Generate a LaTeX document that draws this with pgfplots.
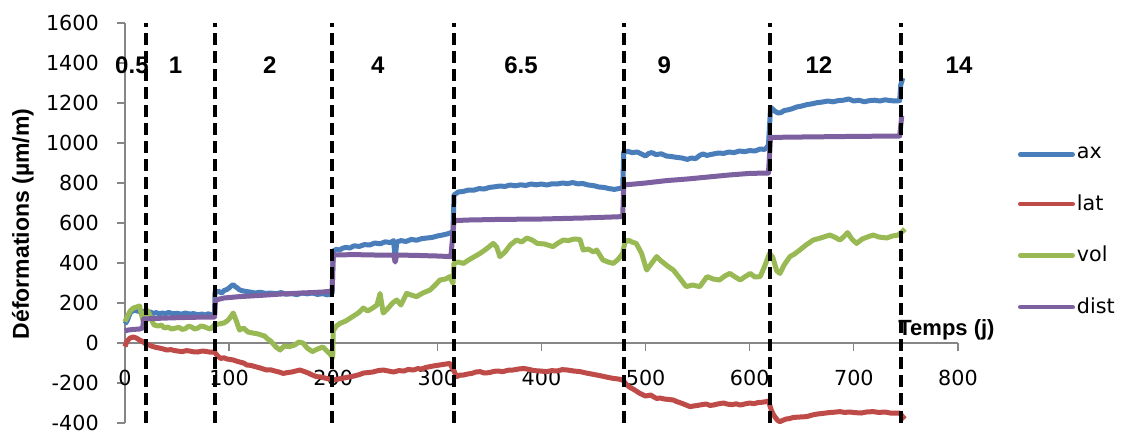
\documentclass[border=0pt]{standalone}
\usepackage{fontspec}
\setmainfont{DejaVu Sans}
\newfontfamily\boldlab{Liberation Sans}
\usepackage{pgfplots}
\pgfplotsset{compat=1.18}
\definecolor{cax}{RGB}{74,126,187}
\definecolor{clat}{RGB}{190,75,72}
\definecolor{cvol}{RGB}{152,185,84}
\definecolor{cdist}{RGB}{125,96,160}
\definecolor{axgray}{RGB}{134,134,134}
\begin{document}
\begin{tikzpicture}
\begin{axis}[
  scale only axis, width=416.5pt, height=200pt,
  xmin=0, xmax=800, ymin=-400, ymax=1600,
  clip=false,
  axis x line=middle, axis y line=left,
  axis line style={-, draw=axgray, line width=0.6pt},
  xtick={0,100,...,800}, xticklabels={0,100,200,300,400,500,600,700,800},
  ytick={-400,-200,...,1600}, yticklabels={-400,-200,0,200,400,600,800,1000,1200,1400,1600},
  tick align=outside, major tick length=4pt,
  every tick/.style={draw=axgray, line width=0.6pt},
  hide obscured x ticks=false, hide obscured y ticks=false,
  ticklabel style={font=\fontsize{10.35}{12}\selectfont},
  xticklabel style={yshift=-6pt},
  yticklabel style={xshift=-5.6pt},
  xlabel={Temps (j)},
  ylabel={Déformations (µm/m)},
  every axis x label/.style={at={(axis cs:736,65)}, anchor=west, font=\boldlab\bfseries\fontsize{11}{13}\selectfont},
  every axis y label/.style={at={(axis description cs:-0.1225,0.4975)}, rotate=90, anchor=center, font=\boldlab\bfseries\fontsize{11.5}{13}\selectfont},
  legend style={draw=none, fill=none, at={(1.072,0.6945)}, anchor=north west, inner sep=0pt, outer sep=0pt, row sep=14.4pt, column sep=0pt, nodes={inner sep=1pt, font=\fontsize{10.35}{12}\selectfont}},
  legend cell align=left,
  legend image code/.code={\draw[#1, line cap=round, line width=2.3pt] (0pt,0pt) -- (26.2pt,0pt);},
  every axis plot/.append style={line width=2.5pt, line join=round},
]
\addplot[cax] coordinates {
(0,95)(2,110)(5,150)(8,165)(12,160)(16,155)(20,160)(22,150)(24,156)(27,148)(30,152)(33,146)(36,150)(39,147)(42,153)(46,146)(50,149)(54,144)(58,150)(62,145)(66,147)(70,141)(74,145)(77,140)(80,146)(83,141)(86,140)
(86.5,255)(90,258)(93,250)(95,262)(98,268)(100,275)(102,285)(104,292)(106,282)(108,275)(110,266)(112,262)(116,258)(120,255)(125,250)(130,254)(135,248)(140,250)(145,246)(150,252)(155,244)(160,247)(165,242)(170,250)(175,246)(180,250)(185,243)(190,247)(194,241)(198,244)(199,250)
(200,460)(203,468)(206,465)(209,474)(212,478)(216,475)(220,486)(225,483)(230,492)(235,490)(240,500)(245,496)(250,506)(255,502)(258,512)(259.5,420)(261,505)(265,512)(270,508)(275,518)(280,514)(285,522)(290,525)(295,528)(300,535)(305,540)(310,546)(315,556)
(316,740)(320,755)(325,758)(330,765)(335,764)(340,772)(345,770)(350,778)(355,781)(360,785)(365,783)(370,790)(375,786)(380,791)(385,788)(390,795)(395,791)(400,795)(405,790)(410,796)(415,795)(420,800)(425,797)(430,802)(435,796)(440,797)(445,790)(450,787)(455,780)(460,778)(465,772)(470,768)(474,772)(478,775)
(479,955)(483,958)(487,952)(492,955)(496,945)(500,935)(503,948)(506,952)(510,942)(515,946)(520,935)(525,932)(530,928)(535,925)(540,918)(544,925)(548,922)(552,938)(555,945)(559,938)(562,942)(566,946)(570,950)(575,948)(580,955)(585,952)(590,960)(595,957)(600,962)(605,960)(610,970)(614,968)(616,975)(618,990)
(620,1178)(622,1170)(624,1160)(627,1150)(630,1152)(633,1162)(636,1165)(640,1170)(645,1180)(650,1185)(655,1192)(660,1196)(665,1202)(670,1205)(675,1210)(680,1206)(685,1212)(690,1214)(695,1220)(700,1210)(705,1214)(710,1206)(715,1212)(720,1214)(725,1210)(730,1216)(735,1212)(740,1210)(744,1212)
(745,1290)(747,1325)
};
\addlegendentry{ax}
\addplot[clat] coordinates {
(0,-18)(2,10)(5,25)(8,30)(11,25)(14,15)(17,7)(20,-5)(23,-10)(27,-18)(30,-22)(33,-25)(37,-30)(40,-35)(44,-33)(48,-38)(52,-41)(55,-43)(59,-38)(62,-40)(66,-44)(70,-45)(74,-40)(78,-42)(82,-46)(86,-45)
(89,-65)(92,-77)(95,-74)(98,-80)(101,-82)(104,-85)(107,-90)(110,-95)(114,-100)(117,-110)(121,-112)(125,-118)(130,-125)(133,-130)(136,-135)(140,-134)(144,-140)(148,-145)(152,-152)(156,-148)(160,-145)(164,-140)(168,-135)(172,-142)(176,-150)(180,-160)(184,-168)(188,-170)(192,-175)(196,-180)(200,-185)
(205,-180)(210,-175)(215,-170)(220,-165)(225,-158)(229,-150)(233,-148)(238,-145)(243,-138)(248,-135)(253,-140)(258,-145)(263,-138)(268,-140)(272,-132)(277,-135)(281,-128)(285,-130)(289,-122)(293,-118)(297,-114)(302,-110)(307,-106)(312,-102)
(316,-140)(318.5,-168)(322,-160)(325,-160)(329,-155)(333,-152)(337,-145)(341,-143)(345,-150)(350,-148)(354,-142)(358,-140)(363,-143)(368,-136)(372.6,-135)(378,-130)(383,-127)(388,-132)(393,-138)(399,-140)(405,-143)(410,-138)(415,-140)(420,-133)(425,-135)(431,-140)(437,-143)(443,-150)(448,-155)(453,-160)(458,-165)(464,-172)(469,-177)(474,-180)(478,-185)
(482,-210)(485,-222)(488,-230)(491,-240)(494.6,-252)(497,-258)(500,-265)(505,-260)(508,-270)(510.6,-277)(514,-275)(518,-280)(522,-282)(526.6,-285)(530,-293)(534,-300)(538,-308)(542.6,-318)(546,-315)(550,-312)(554,-308)(558,-305)(562,-312)(565,-310)(570,-304)(575,-300)(579,-306)(583,-308)(587,-304)(590.9,-310)(595,-305)(600,-300)(604,-303)(608,-298)(612,-296)(616,-293)(618,-290)
(621,-340)(623,-360)(625,-375)(627,-388)(629,-393)(632,-386)(635,-380)(638,-378)(642,-372)(648,-370)(654.6,-368)(660,-360)(665,-355)(670,-352)(676,-348)(681,-346)(686.6,-343)(691,-347)(696,-345)(701,-348)(707,-350)(712,-345)(718.5,-343)(724,-347)(730,-345)(735,-350)(740,-350)(744,-350)(747,-370)(749,-380)
};
\addlegendentry{lat}
\addplot[cvol] coordinates {
(0,107)(3,140)(5,160)(8,175)(11,180)(14,185)(16,140)(17.5,110)(19,140)(21,165)(23,150)(26,110)(28,90)(32,85)(35,90)(38,75)(41,80)(45,70)(48,74)(52,78)(55,68)(58,72)(61,84)(64,80)(67,70)(70,75)(73,85)(76,82)(79,75)(82,70)(84,80)(86,90)
(90,95)(95,100)(98,110)(100,120)(102,135)(104,150)(105.5,130)(107,110)(110,65)(114,75)(118,55)(123,50)(128,45)(131,40)(134,35)(137,20)(140,10)(145,-20)(149,-35)(153,-15)(158,-18)(163,-10)(167,5)(171,0)(175,-25)(180,-43)(185,-30)(190,-20)(193,-35)(197,-55)(199.5,-75)
(200,60)(203,85)(206.5,98)(212,110)(218,130)(224,150)(229,175)(233,160)(238,175)(242,190)(245,248)(248,150)(252,170)(257,200)(261,215)(265,190)(270.5,248)(275,240)(280,232)(286,250)(293,265)(298,290)(302.5,315)(308,320)(312,332)(315,298)
(316,400)(320,405)(325,398)(330,415)(335,430)(341,448)(347,470)(353.6,498)(357,480)(360,432)(365,455)(370,490)(376,515)(381,505)(386,525)(391,515)(396,498)(403,495)(411,482)(416,500)(421,515)(426,512)(431,520)(437,518)(440,465)(445,470)(450,455)(453,465)(459,415)(464,405)(469,398)(474,420)(478,448)
(480,500)(483,515)(487,505)(491,498)(496,450)(501,365)(506,400)(510.6,432)(515,410)(521,385)(526.6,365)(532,330)(539,282)(545,290)(552,282)(559,332)(565,320)(571,315)(576,335)(581,348)(586,330)(590.9,315)(595,330)(600.5,348)(605,330)(610,332)(614,380)(619,448)
(622,430)(626,360)(629,348)(633,390)(638.6,432)(643,445)(648,465)(654,490)(661,515)(668,525)(677,540)(682,528)(686.6,515)(690,530)(694,552)(698,520)(702.6,498)(708,520)(713,530)(718.5,540)(724,530)(731.5,525)(737,535)(742.6,540)(746,555)(749,570)
};
\addlegendentry{vol}
\addplot[cdist] coordinates {
(0,60)(3,65)(8,68)(14,70)(17,75)(18,120)(25,122)(40,125)(60,128)(80,130)(86,130)
(87,215)(95,225)(110,232)(130,238)(150,245)(170,250)(190,255)(199,260)
(200,440)(220,442)(240,440)(258,440)(259.5,405)(261,440)(280,438)(300,435)(313,432)
(316,612)(330,615)(360,618)(400,620)(440,625)(478,632)
(479,790)(500,800)(520,812)(540,820)(560,830)(580,840)(600,848)(618,850)
(620,1028)(650,1030)(700,1033)(744,1035)(746,1135)
};
\addlegendentry{dist}
\pgfplotsinvokeforeach{20,86,199,316,479,619,745}{
  \addplot[black, line width=2pt, dash pattern=on 6pt off 3pt, forget plot] coordinates {(#1,-400)(#1,1600)};
}
\begin{scope}[font=\boldlab\bfseries\fontsize{12}{14}\selectfont]
\node at (axis cs:6.7,1387) {0.5};
\node at (axis cs:48.7,1387) {1};
\node at (axis cs:139,1387) {2};
\node at (axis cs:242.7,1387) {4};
\node at (axis cs:380.3,1387) {6.5};
\node at (axis cs:518,1387) {9};
\node at (axis cs:666.5,1387) {12};
\node at (axis cs:801,1387) {14};
\end{scope}
\path (axis cs:-120,-455) rectangle (axis cs:957.5,1715);
\end{axis}
\end{tikzpicture}
\end{document}
